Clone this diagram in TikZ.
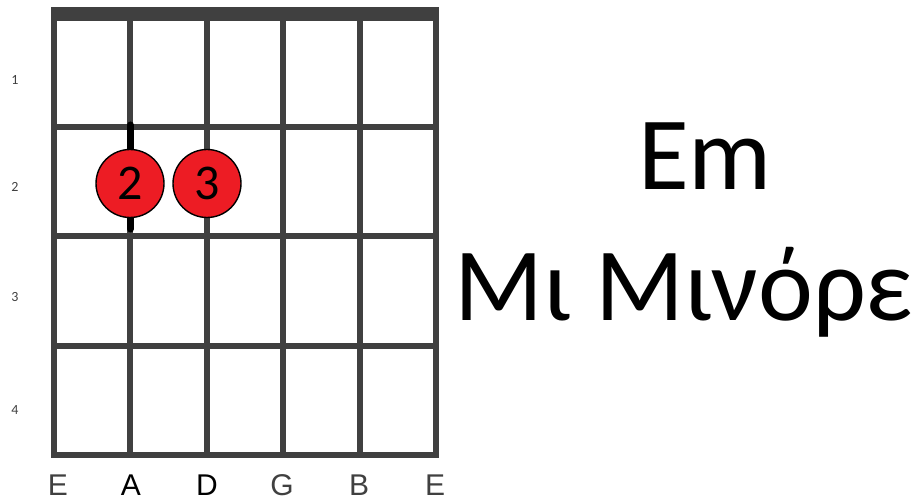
\documentclass[tikz,border=0pt]{standalone}
\usepackage{fontspec}
\setmainfont{Carlito}
\newfontfamily\labelfont{Liberation Sans}
\definecolor{gridgray}{HTML}{404040}
\definecolor{fingerred}{HTML}{ED1C24}

\begin{document}
\begin{tikzpicture}[x=1pt, y=-1pt,
    fretline/.style={draw=gridgray, line width=6pt},
    finger/.style={circle, draw=black, line width=1.4pt, fill=fingerred, minimum size=68pt, inner sep=0pt, font=\fontsize{50}{50}\selectfont},
    fretnum/.style={text=gridgray, font=\fontsize{14}{14}\selectfont},
    strname/.style={anchor=base, font=\labelfont\fontsize{30}{30}\selectfont},
    title/.style={anchor=base, font=\fontsize{104}{104}\selectfont}
]
    \useasboundingbox (0,0) rectangle (920,502);

    % nut
    \fill[gridgray] (51,7) rectangle (439,21);
    % frets and strings
    \foreach \y in {127,236.5,346,455}
        \draw[fretline] (51,\y) -- (439,\y);
    \foreach \x in {54,130.4,206.8,283.2,359.6,436}
        \draw[fretline] (\x,14) -- (\x,458);

    % fret numbers
    \node [fretnum] (n1) at (15,80) {1};
    \node [fretnum] (n2) at (15,187) {2};
    \node [fretnum] (n3) at (15,297) {3};
    \node [fretnum] (n4) at (15,410) {4};

    % string names
    \node [strname, text=gridgray] (s1) at (58,495) {E};
    \node [strname] (s2) at (131,495) {A};
    \node [strname] (s3) at (207,495) {D};
    \node [strname, text=gridgray] (s4) at (282,495) {G};
    \node [strname, text=gridgray] (s5) at (359,495) {B};
    \node [strname, text=gridgray] (s6) at (435,495) {E};

    % fingers
    \coordinate (a1) at (130.4,125);
    \coordinate (a2) at (130.4,229);
    \draw[line width=7pt, line cap=round] (a1) -- (a2);
    \node [finger] (f2) at (130,183.5) {2};
    \node [finger] (f3) at (207,183.5) {3};

    % chord name
    \node [title] (em) at (705,190) {Em};
    \node [title] (gr) at (684,320) {Μι Μινόρε};
\end{tikzpicture}
\end{document}
